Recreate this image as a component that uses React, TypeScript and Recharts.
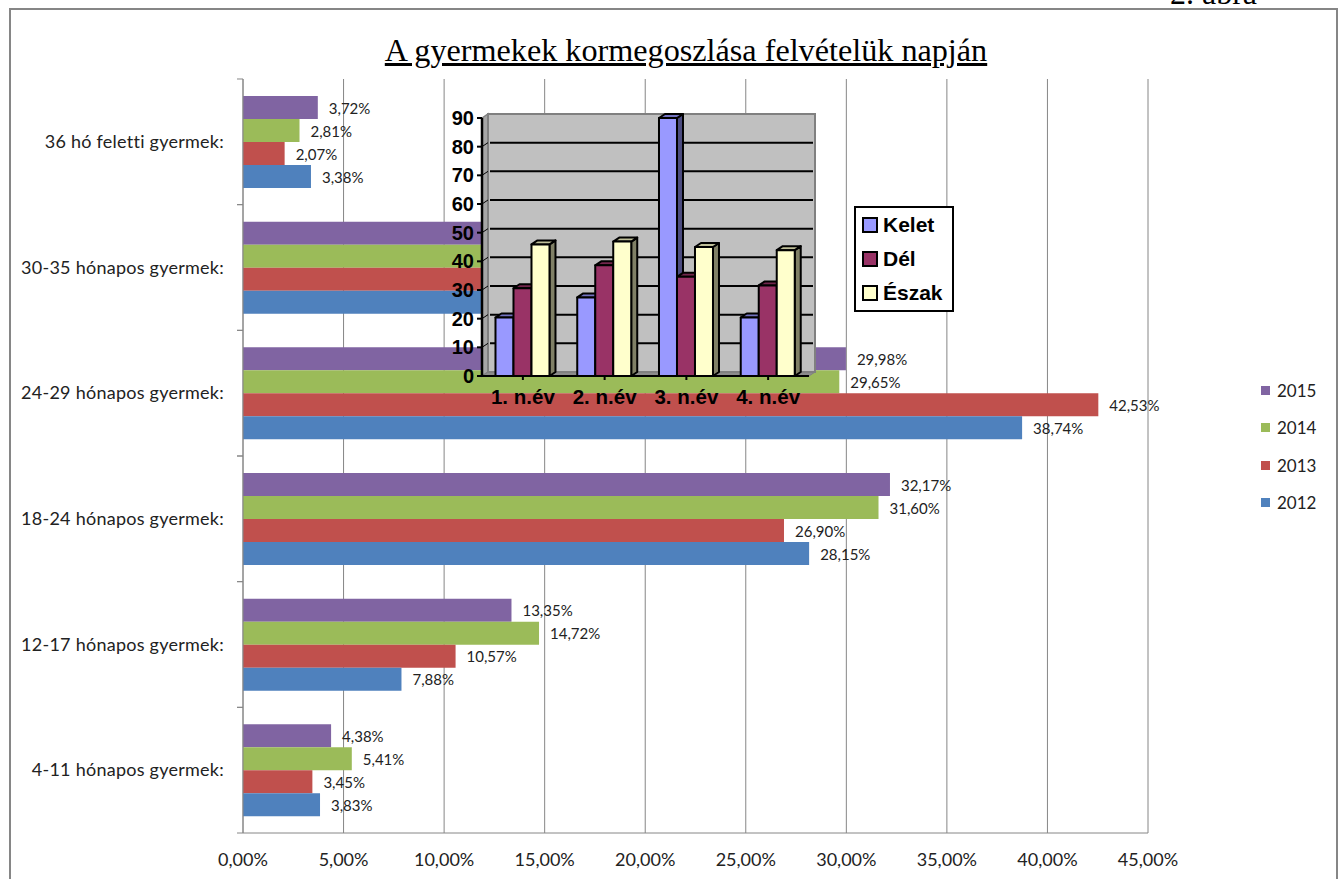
import {
  Bar,
  BarChart,
  CartesianGrid,
  LabelList,
  Legend,
  ReferenceArea,
  XAxis,
  YAxis,
} from "recharts";

const AGE_GROUPS = [
  "36 hó feletti gyermek:",
  "30-35 hónapos gyermek:",
  "24-29 hónapos gyermek:",
  "18-24 hónapos gyermek:",
  "12-17 hónapos gyermek:",
  "4-11 hónapos gyermek:",
];
// the 30-35 row is hidden behind the inset, estimated from what is left to 100%
const Y2015 = [3.72, 16.4, 29.98, 32.17, 13.35, 4.38];
const Y2014 = [2.81, 15.81, 29.65, 31.6, 14.72, 5.41];
const Y2013 = [2.07, 14.48, 42.53, 26.9, 10.57, 3.45];
const Y2012 = [3.38, 18.0, 38.74, 28.15, 7.88, 3.83];
const PERCENT_TICKS = [0, 5, 10, 15, 20, 25, 30, 35, 40, 45];

const YEARS = ["1. n.év", "2. n.év", "3. n.év", "4. n.év"];
const KELET = [20.4, 27.4, 90, 20.4];
const DEL = [30.6, 38.6, 34.6, 31.6];
const ESZAK = [45.9, 46.9, 45, 43.9];
const INSET_TICKS = [0, 10, 20, 30, 40, 50, 60, 70, 80, 90];

const ageData = AGE_GROUPS.map((name, i) => ({
  name,
  y2015: Y2015[i],
  y2014: Y2014[i],
  y2013: Y2013[i],
  y2012: Y2012[i],
}));

const yearData = YEARS.map((name, i) => ({
  name,
  kelet: KELET[i],
  del: DEL[i],
  eszak: ESZAK[i],
}));

const SANS = "Lato, sans-serif";
const ARIAL = "'Liberation Sans', Arial, sans-serif";
const GRID = "#868686";
const BAND = 125.67;
const DEPTH = 6;

const percent = (v: number) => v.toFixed(2).replace(".", ",") + "%";

function AgeTick({ x, y, payload }: any) {
  return (
    <g>
      <line x1={x + 13} x2={x + 19} y1={y - BAND / 2} y2={y - BAND / 2} stroke={GRID} />
      <line x1={x + 13} x2={x + 19} y1={y + BAND / 2} y2={y + BAND / 2} stroke={GRID} />
      <text
        x={x}
        y={y + 6}
        textAnchor="end"
        fontFamily={SANS}
        fontSize={18}
        letterSpacing={0.25}
        fill="#222"
      >
        {payload.value}
      </text>
    </g>
  );
}

function YearLegend({ payload }: any) {
  return (
    <div style={{ fontFamily: SANS, fontSize: 17, color: "#222" }}>
      {payload.map((p: any) => (
        <div key={p.value} style={{ display: "flex", alignItems: "center", height: 37.3 }}>
          <span style={{ width: 9, height: 9, background: p.color, marginRight: 7 }} />
          {p.value}
        </div>
      ))}
    </div>
  );
}

function InsetLegend({ payload }: any) {
  return (
    <div
      style={{
        boxSizing: "border-box",
        width: 100,
        height: 106,
        padding: "0 0 0 6px",
        border: "2px solid #000",
        background: "#fff",
        fontFamily: ARIAL,
        fontWeight: 700,
        fontSize: 21,
        color: "#000",
      }}
    >
      {payload.map((p: any) => (
        <div key={p.value} style={{ display: "flex", alignItems: "center", height: 34 }}>
          <span
            style={{
              boxSizing: "border-box",
              width: 16,
              height: 16,
              background: p.color,
              border: "2px solid #000",
              marginRight: 5,
            }}
          />
          {p.value}
        </div>
      ))}
    </div>
  );
}

// back wall, side wall, floor and gridlines of the 3d box
function Wall({ x, y, width, height }: any) {
  const r = x + width;
  const b = y + height;
  const d = DEPTH;
  return (
    <g>
      <polygon
        points={`${x},${y} ${x + d},${y - 4} ${x + d},${b - 4} ${x},${b}`}
        fill="#a6a6a6"
        stroke="#808080"
        strokeWidth={1.5}
      />
      <polygon
        points={`${x},${b} ${x + d},${b - 4} ${r + d},${b - 4} ${r},${b}`}
        fill="#8c8c8c"
        stroke="#808080"
      />
      <rect x={x + d} y={y - 4} width={width} height={height} fill="#c0c0c0" stroke="#808080" strokeWidth={2} />
      {INSET_TICKS.slice(1, -1).map((t) => {
        const ty = b - 4 - (t / 90) * height;
        return (
          <g key={t}>
            <line x1={x + d + 2} x2={r + d - 2} y1={ty} y2={ty} stroke="#000" strokeWidth={2} />
            <line x1={x} x2={x + d} y1={ty + 4} y2={ty} stroke="#000" strokeWidth={1} />
          </g>
        );
      })}
    </g>
  );
}

const bar3d = (top: string, side: string) => (props: any) => {
  const { x, y, width, height, fill } = props;
  const d = DEPTH;
  const r = x + width;
  const b = y + height;
  return (
    <g stroke="#000" strokeWidth={2} strokeLinejoin="round">
      <polygon points={`${r},${y} ${r + d},${y - 4} ${r + d},${b - 4} ${r},${b}`} fill={side} />
      <polygon points={`${x},${y} ${x + d},${y - 4} ${r + d},${y - 4} ${r},${y}`} fill={top} />
      <rect x={x} y={y} width={width} height={height} fill={fill} />
    </g>
  );
};

function Inset() {
  return (
    <div style={{ position: "absolute", left: 430, top: 100 }}>
      <BarChart
        width={540}
        height={320}
        data={yearData}
        margin={{ top: 18, right: 161, bottom: 0, left: 0 }}
        barCategoryGap="16.5%"
        barGap={0}
        style={{ background: "transparent" }}
      >
        <ReferenceArea y1={0} y2={90} shape={Wall} fillOpacity={1} />
        <XAxis
          dataKey="name"
          height={44}
          tickSize={4}
          tickMargin={9}
          interval={0}
          axisLine={{ stroke: "#000", strokeWidth: 2 }}
          tickLine={{ stroke: "#000", strokeWidth: 2 }}
          tick={{ fontFamily: ARIAL, fontWeight: 700, fontSize: 20.5, fill: "#000" }}
        />
        <YAxis
          width={52}
          domain={[0, 90]}
          ticks={INSET_TICKS}
          interval={0}
          tickSize={5}
          tickMargin={3}
          axisLine={{ stroke: "#000", strokeWidth: 2.5 }}
          tickLine={{ stroke: "#000", strokeWidth: 2 }}
          tick={{ fontFamily: ARIAL, fontWeight: 700, fontSize: 20, fill: "#000" }}
        />
        <Legend
          layout="vertical"
          align="center"
          verticalAlign="middle"
          itemSorter={null}
          content={InsetLegend}
          wrapperStyle={{ left: 424, top: 106, width: 100 }}
        />
        <Bar dataKey="kelet" name="Kelet" fill="#9999ff" isAnimationActive={false} shape={bar3d("#7272bf", "#4c4c80")} />
        <Bar dataKey="del" name="Dél" fill="#993366" isAnimationActive={false} shape={bar3d("#72264c", "#4c1933")} />
        <Bar dataKey="eszak" name="Észak" fill="#ffffcc" isAnimationActive={false} shape={bar3d("#bfbf99", "#808066")} />
      </BarChart>
    </div>
  );
}

export default function App() {
  const labelProps = {
    position: "right" as const,
    offset: 11,
    formatter: percent,
    fontFamily: SANS,
    fontSize: 15,
    fill: "#222",
    dy: 1,
  };
  return (
    <div
      style={{
        position: "absolute",
        left: 0,
        top: 0,
        width: 1338,
        height: 879,
        overflow: "hidden",
        background: "#fff",
      }}
    >
      <div
        style={{
          position: "absolute",
          left: 1170,
          top: -25,
          fontFamily: "'Liberation Serif', serif",
          fontSize: 32,
          color: "#000",
        }}
      >
        2. ábra
      </div>
      <div
        style={{
          position: "absolute",
          left: 9,
          top: 8,
          width: 1325,
          height: 900,
          border: "2px solid #868686",
        }}
      />
      <div
        style={{
          position: "absolute",
          left: 0,
          width: 1372,
          top: 32,
          textAlign: "center",
          fontFamily: "'Liberation Serif', serif",
          fontSize: 32.2,
          lineHeight: "36px",
          textDecoration: "underline",
          color: "#000",
        }}
      >
        A gyermekek kormegoszlása felvételük napján
      </div>
      <div style={{ position: "absolute", left: 0, top: 0 }}>
        <BarChart
          layout="vertical"
          width={1338}
          height={879}
          data={ageData}
          margin={{ top: 79, right: 190, bottom: 0, left: 0 }}
          barCategoryGap="13.5%"
          barGap={0}
        >
          <CartesianGrid horizontal={false} stroke={GRID} />
          <XAxis
            type="number"
            domain={[0, 45]}
            ticks={PERCENT_TICKS}
            interval={0}
            height={46}
            tickFormatter={percent}
            tickSize={0}
            tickMargin={20}
            axisLine={{ stroke: GRID }}
            tickLine={false}
            tick={{ fontFamily: SANS, fontSize: 18, fill: "#222" }}
          />
          <YAxis
            type="category"
            dataKey="name"
            width={243}
            interval={0}
            tickSize={0}
            tickMargin={19}
            axisLine={{ stroke: GRID }}
            tickLine={false}
            tick={<AgeTick />}
          />
          <Legend
            layout="vertical"
            align="center"
            verticalAlign="middle"
            itemSorter={null}
            content={YearLegend}
            wrapperStyle={{ left: 1261, top: 372, width: 70 }}
          />
          <Bar dataKey="y2015" name="2015" fill="#8064A2" isAnimationActive={false}>
            <LabelList dataKey="y2015" {...labelProps} />
          </Bar>
          <Bar dataKey="y2014" name="2014" fill="#9BBB59" isAnimationActive={false}>
            <LabelList dataKey="y2014" {...labelProps} />
          </Bar>
          <Bar dataKey="y2013" name="2013" fill="#C0504D" isAnimationActive={false}>
            <LabelList dataKey="y2013" {...labelProps} />
          </Bar>
          <Bar dataKey="y2012" name="2012" fill="#4F81BD" isAnimationActive={false}>
            <LabelList dataKey="y2012" {...labelProps} />
          </Bar>
        </BarChart>
      </div>
      <Inset />
    </div>
  );
}
